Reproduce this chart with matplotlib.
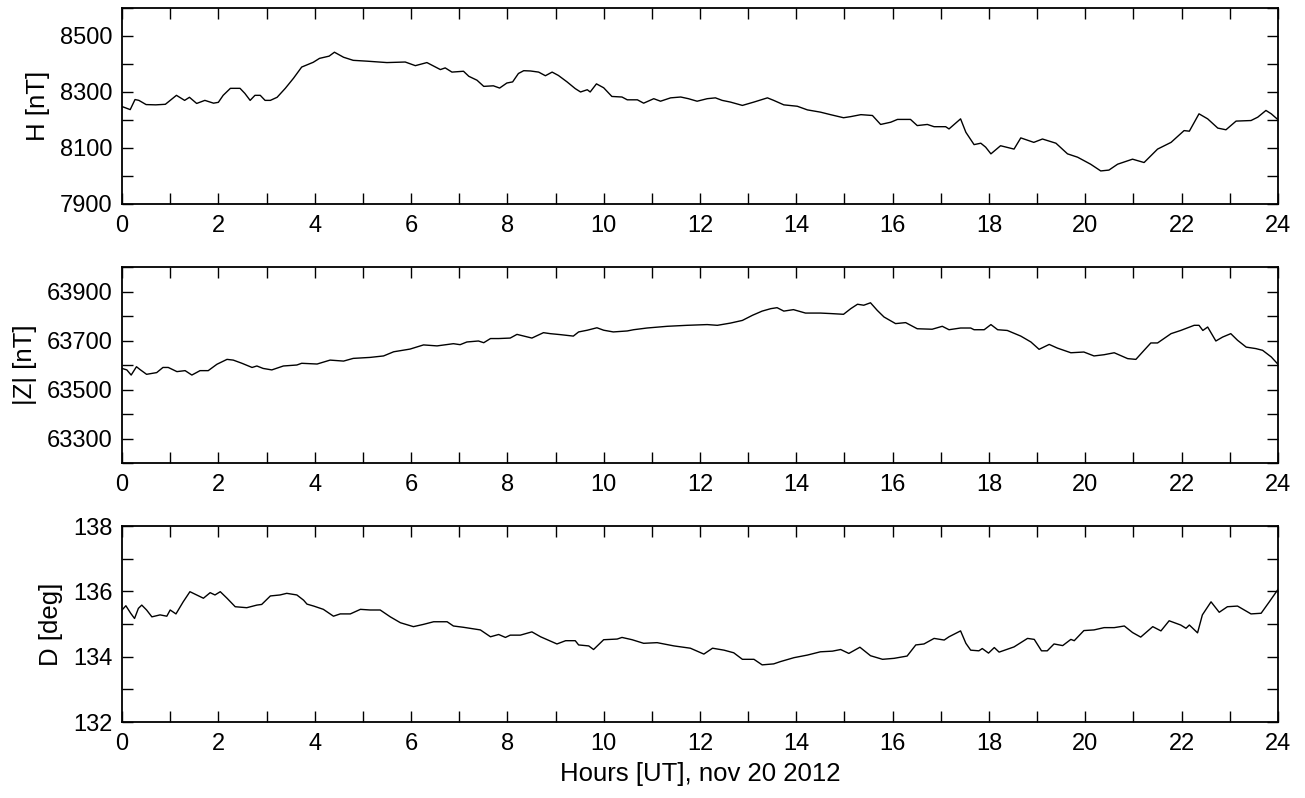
import numpy as np
import matplotlib
matplotlib.use("Agg")
import matplotlib.pyplot as plt
from matplotlib.ticker import FixedLocator, MultipleLocator

plt.rcParams['font.family'] = ['Liberation Sans', 'DejaVu Sans']

# H component [nT]
h_hours = [0, 0.17, 0.27, 0.35, 0.5, 0.7, 0.9, 1.13, 1.3, 1.4, 1.55, 1.72, 1.9, 2.0, 2.1,
           2.25, 2.45, 2.55, 2.66, 2.76, 2.87, 2.97, 3.08, 3.22, 3.39, 3.56, 3.73, 3.97, 4.1,
           4.3, 4.41, 4.6, 4.8, 5.09, 5.5, 5.88, 6.09, 6.33, 6.61, 6.71, 6.85, 7.09, 7.2,
           7.37, 7.51, 7.71, 7.84, 7.99, 8.11, 8.23, 8.34, 8.48, 8.65, 8.79, 8.93, 9.06,
           9.24, 9.41, 9.52, 9.66, 9.72, 9.85, 10.0, 10.17, 10.38, 10.49, 10.7, 10.83,
           11.04, 11.18, 11.39, 11.6, 11.76, 11.94, 12.15, 12.32, 12.46, 12.63, 12.88,
           13.12, 13.4, 13.53, 13.74, 14.02, 14.23, 14.5, 14.71, 14.98, 15.13, 15.34,
           15.58, 15.75, 15.96, 16.1, 16.37, 16.51, 16.72, 16.86, 17.1, 17.17, 17.41,
           17.52, 17.69, 17.83, 17.93, 18.04, 18.24, 18.52, 18.66, 18.93, 19.11, 19.39,
           19.63, 19.84, 20.11, 20.32, 20.49, 20.67, 20.98, 21.22, 21.5, 21.78, 22.05,
           22.16, 22.36, 22.54, 22.75, 22.92, 23.13, 23.44, 23.58, 23.75, 23.86, 24.0]
h_values = [8248, 8237, 8273, 8270, 8255, 8254, 8256, 8288, 8270, 8281, 8259, 8270, 8260,
            8263, 8288, 8313, 8313, 8295, 8270, 8288, 8288, 8270, 8270, 8281, 8313, 8349,
            8389, 8406, 8420, 8428, 8442, 8424, 8413, 8410, 8405, 8407, 8394, 8405, 8380,
            8386, 8371, 8374, 8356, 8342, 8320, 8322, 8314, 8332, 8336, 8366, 8376, 8375,
            8371, 8358, 8371, 8359, 8336, 8312, 8300, 8308, 8300, 8329, 8315, 8284, 8282,
            8272, 8272, 8260, 8276, 8267, 8279, 8282, 8276, 8267, 8276, 8279, 8270, 8264,
            8252, 8264, 8279, 8270, 8254, 8249, 8236, 8228, 8219, 8208, 8212, 8219, 8216,
            8184, 8192, 8202, 8202, 8180, 8184, 8176, 8176, 8168, 8204, 8156, 8112, 8117,
            8103, 8079, 8108, 8096, 8136, 8120, 8132, 8117, 8079, 8067, 8042, 8018, 8021,
            8042, 8060, 8048, 8096, 8120, 8162, 8160, 8222, 8204, 8171, 8165, 8196, 8198,
            8210, 8234, 8222, 8201]

# |Z| component [nT]
z_hours = [0, 0.1, 0.19, 0.3, 0.37, 0.51, 0.72, 0.85, 0.96, 1.14, 1.31, 1.45, 1.62, 1.79,
           1.97, 2.18, 2.31, 2.49, 2.7, 2.8, 2.93, 3.11, 3.35, 3.63, 3.73, 4.05, 4.32, 4.6,
           4.8, 5.15, 5.43, 5.64, 5.98, 6.26, 6.54, 6.88, 7.02, 7.16, 7.4, 7.51, 7.65,
           7.82, 8.06, 8.2, 8.51, 8.75, 8.89, 9.1, 9.37, 9.48, 9.66, 9.86, 10.0, 10.2,
           10.49, 10.62, 10.9, 11.32, 11.73, 12.15, 12.36, 12.63, 12.88, 13.09, 13.29,
           13.47, 13.6, 13.74, 13.94, 14.19, 14.5, 14.71, 14.98, 15.13, 15.27, 15.4, 15.54,
           15.68, 15.82, 16.06, 16.27, 16.51, 16.82, 17.03, 17.17, 17.41, 17.62, 17.69,
           17.9, 18.04, 18.18, 18.38, 18.66, 18.87, 19.04, 19.25, 19.42, 19.7, 19.97,
           20.18, 20.39, 20.6, 20.88, 21.05, 21.22, 21.36, 21.5, 21.78, 21.98, 22.26,
           22.36, 22.44, 22.54, 22.71, 22.85, 23.02, 23.16, 23.34, 23.54, 23.68, 23.86,
           24.0]
z_values = [63586, 63580, 63559, 63593, 63582, 63562, 63569, 63590, 63590, 63573, 63577,
            63559, 63577, 63577, 63603, 63623, 63620, 63607, 63590, 63596, 63586, 63580,
            63596, 63600, 63607, 63604, 63620, 63616, 63627, 63631, 63637, 63654, 63665,
            63682, 63678, 63687, 63683, 63694, 63698, 63691, 63708, 63708, 63710, 63725,
            63710, 63732, 63728, 63724, 63718, 63735, 63742, 63752, 63742, 63735, 63739,
            63744, 63751, 63758, 63762, 63765, 63762, 63771, 63782, 63803, 63820, 63830,
            63834, 63820, 63826, 63812, 63812, 63810, 63807, 63830, 63848, 63844, 63854,
            63823, 63796, 63769, 63773, 63748, 63746, 63758, 63744, 63751, 63751, 63744,
            63744, 63765, 63744, 63741, 63718, 63694, 63664, 63684, 63669, 63650, 63653,
            63637, 63642, 63650, 63626, 63623, 63660, 63690, 63690, 63728, 63741, 63762,
            63762, 63741, 63755, 63698, 63714, 63728, 63701, 63673, 63667, 63660, 63633,
            63603]

# declination [deg]
d_hours = [0, 0.08, 0.18, 0.26, 0.34, 0.41, 0.51, 0.62, 0.79, 0.93, 1.0, 1.12, 1.27, 1.41,
           1.55, 1.69, 1.83, 1.93, 2.04, 2.18, 2.35, 2.59, 2.8, 2.9, 3.08, 3.28, 3.42,
           3.63, 3.77, 3.84, 3.98, 4.18, 4.39, 4.53, 4.74, 4.95, 5.15, 5.36, 5.57, 5.78,
           6.05, 6.26, 6.47, 6.75, 6.88, 7.09, 7.44, 7.65, 7.82, 7.96, 8.06, 8.27, 8.51,
           8.69, 9.03, 9.21, 9.41, 9.48, 9.69, 9.79, 10.0, 10.28, 10.38, 10.59, 10.83,
           11.11, 11.46, 11.8, 12.08, 12.26, 12.5, 12.7, 12.88, 13.12, 13.29, 13.53, 13.67,
           13.95, 14.23, 14.5, 14.75, 14.92, 15.09, 15.32, 15.54, 15.79, 16.03, 16.3,
           16.48, 16.65, 16.86, 17.07, 17.17, 17.41, 17.52, 17.62, 17.79, 17.86, 17.99,
           18.11, 18.21, 18.52, 18.8, 18.94, 19.09, 19.21, 19.35, 19.53, 19.7, 19.77,
           19.97, 20.18, 20.39, 20.6, 20.81, 20.98, 21.15, 21.4, 21.57, 21.74, 21.98,
           22.09, 22.16, 22.33, 22.43, 22.61, 22.78, 22.95, 23.16, 23.44, 23.65, 23.82,
           24.0]
d_values = [135.43, 135.56, 135.33, 135.17, 135.48, 135.58, 135.43, 135.22, 135.28, 135.24,
            135.43, 135.31, 135.68, 135.99, 135.89, 135.79, 135.96, 135.89, 135.99, 135.79,
            135.53, 135.50, 135.58, 135.60, 135.86, 135.89, 135.94, 135.89, 135.73, 135.61,
            135.55, 135.45, 135.24, 135.31, 135.31, 135.45, 135.43, 135.43, 135.22, 135.04,
            134.92, 134.99, 135.07, 135.07, 134.94, 134.90, 134.82, 134.61, 134.68, 134.59,
            134.66, 134.66, 134.76, 134.61, 134.39, 134.49, 134.49, 134.36, 134.33, 134.22,
            134.52, 134.54, 134.59, 134.52, 134.41, 134.43, 134.33, 134.26, 134.08, 134.26,
            134.20, 134.12, 133.92, 133.92, 133.75, 133.78, 133.85, 133.97, 134.05, 134.15,
            134.17, 134.22, 134.10, 134.29, 134.03, 133.92, 133.95, 134.02, 134.36, 134.39,
            134.56, 134.51, 134.61, 134.79, 134.41, 134.20, 134.18, 134.25, 134.11, 134.28,
            134.14, 134.30, 134.56, 134.53, 134.18, 134.18, 134.39, 134.34, 134.53, 134.49,
            134.80, 134.82, 134.89, 134.89, 134.94, 134.74, 134.60, 134.92, 134.79, 135.10,
            134.97, 134.87, 134.97, 134.73, 135.28, 135.68, 135.36, 135.53, 135.55, 135.31,
            135.33, 135.68, 136.06]

hour_ticks = list(range(0, 25, 2))

panels = [
    (h_hours, h_values, "H [nT]", (7900, 8600), [7900, 8100, 8300, 8500], 100),
    (z_hours, z_values, "|Z| [nT]", (63200, 64000), [63300, 63500, 63700, 63900], 100),
    (d_hours, d_values, "D [deg]", (132, 138), [132, 134, 136, 138], 1),
]

fig = plt.figure(figsize=(13.05, 7.98), dpi=100)
bottoms = [0.7444, 0.4198, 0.0952]

for (hours, vals, label, ylim, yticks, yminor), b in zip(panels, bottoms):
    ax = fig.add_axes([0.0935, b, 0.8858, 0.2456])
    ax.plot(hours, vals, color='black', linewidth=1.0)
    ax.set_xlim(0, 24)
    ax.set_ylim(*ylim)
    ax.xaxis.set_major_locator(FixedLocator(hour_ticks))
    ax.xaxis.set_minor_locator(MultipleLocator(1))
    ax.yaxis.set_major_locator(FixedLocator(yticks))
    ax.yaxis.set_minor_locator(MultipleLocator(yminor))
    ax.tick_params(which='both', direction='in', top=True, right=True,
                   length=8, width=1.0, labelsize=17)
    ax.tick_params(axis='x', pad=8)
    ax.tick_params(axis='y', pad=7)
    ax.set_ylabel(label, fontsize=18.5, labelpad=7)
    for s in ax.spines.values():
        s.set_linewidth(1.3)

ax.set_xlabel("Hours [UT], nov 20 2012", fontsize=18.5, labelpad=5)

plt.savefig("out.png", dpi=100)
